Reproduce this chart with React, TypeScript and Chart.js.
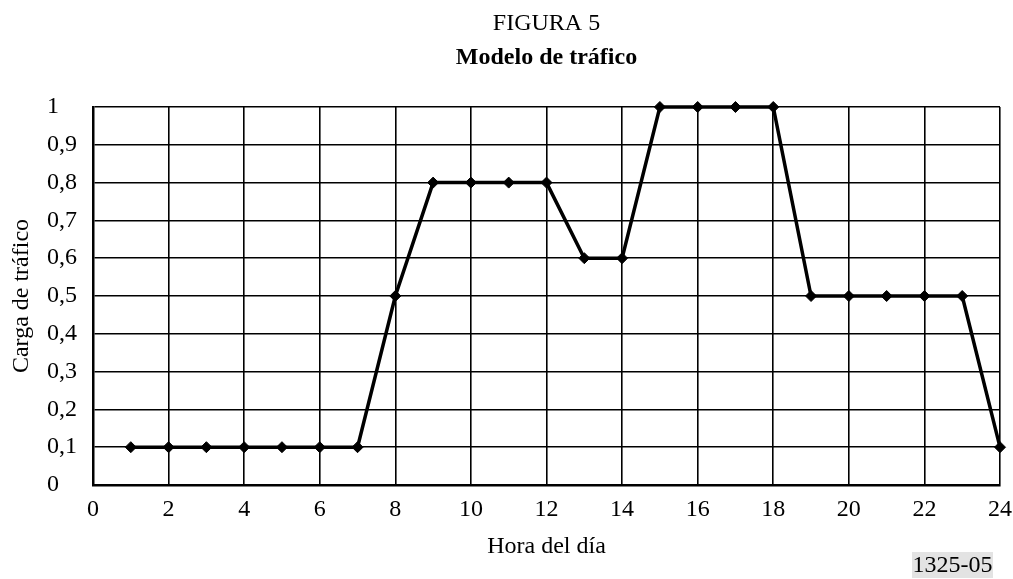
import React, { useEffect, useRef } from "react";
import { Chart, registerables } from "chart.js";

Chart.register(...registerables);

const hours = [1, 2, 3, 4, 5, 6, 7, 8, 9, 10, 11, 12, 13, 14, 15, 16, 17, 18, 19, 20, 21, 22, 23, 24];
const load = [0.1, 0.1, 0.1, 0.1, 0.1, 0.1, 0.1, 0.5, 0.8, 0.8, 0.8, 0.8, 0.6, 0.6, 1, 1, 1, 1, 0.5, 0.5, 0.5, 0.5, 0.5, 0.1];
const figureLabel = "FIGURA 5";
const chartTitle = "Modelo de tráfico";
const xTitle = "Hora del día";
const yTitle = "Carga de tráfico";
const refLabel = "1325-05";

const FONT = "'Liberation Serif', 'Times New Roman', serif";
const FS = 24;

const overlay = {
  id: "overlay",
  afterDraw(chart: any) {
    const ctx = chart.ctx;
    const area = chart.chartArea;
    const cx = (area.left + area.right) / 2;
    const cy = (area.top + area.bottom) / 2;
    ctx.save();
    ctx.fillStyle = "#000";
    ctx.textAlign = "center";
    ctx.textBaseline = "middle";
    ctx.font = `${FS}px ${FONT}`;
    ctx.fillText(figureLabel, cx, 24);
    ctx.font = `bold ${FS}px ${FONT}`;
    ctx.fillText(chartTitle, cx, 58);
    ctx.font = `${FS}px ${FONT}`;
    ctx.fillText(xTitle, cx, 547);
    ctx.save();
    ctx.translate(22, cy);
    ctx.rotate(-Math.PI / 2);
    ctx.fillText(yTitle, 0, 0);
    ctx.restore();
    // reference label
    const bx = 912, by = 552, bw = 81, bh = 26;
    ctx.fillStyle = "#e3e3e3";
    ctx.fillRect(bx, by, bw, bh);
    ctx.fillStyle = "#000";
    ctx.fillText(refLabel, bx + bw / 2, by + bh / 2 + 1);
    ctx.restore();
  },
};

export default function App() {
  const ref = useRef<HTMLCanvasElement>(null);
  useEffect(() => {
    document.body.style.margin = "0";
    const chart = new Chart(ref.current!, {
      type: "line",
      data: {
        datasets: [
          {
            data: hours.map((h, i) => ({ x: h, y: load[i] })),
            borderColor: "#000",
            backgroundColor: "#000",
            borderWidth: 3.5,
            pointStyle: "rectRot",
            pointRadius: 5.5,
            pointBorderWidth: 1,
            tension: 0,
            clip: false,
          } as any,
        ],
      },
      options: {
        animation: false,
        responsive: false,
        maintainAspectRatio: false,
        layout: { padding: { top: 107, right: 13, left: 47, bottom: 0 } },
        plugins: { legend: { display: false }, tooltip: { enabled: false } },
        scales: {
          x: {
            type: "linear",
            min: 0,
            max: 24,
            ticks: { stepSize: 2, color: "#000", font: { family: FONT, size: FS }, padding: 10, maxRotation: 0 },
            grid: { color: "#000", lineWidth: 1.6, drawTicks: false },
            border: { color: "#000", width: 2.5 },
            afterFit(scale: any) {
              scale.height = 94;
              scale.paddingLeft = 0;
              scale.paddingRight = 0;
            },
          },
          y: {
            min: 0,
            max: 1,
            ticks: {
              stepSize: 0.1,
              color: "#000",
              font: { family: FONT, size: FS },
              crossAlign: "far",
              callback: (v: any) => String(Number(Number(v).toFixed(1))).replace(".", ","),
            },
            grid: { color: "#000", lineWidth: 1.6, drawTicks: false },
            border: { color: "#000", width: 2.5 },
            afterFit(scale: any) {
              scale.width = 46;
              scale.paddingTop = 0;
              scale.paddingBottom = 0;
            },
          },
        },
      },
      plugins: [overlay],
    });
    return () => chart.destroy();
  }, []);
  return (
    <div style={{ width: 1013, height: 579 }}>
      <canvas ref={ref} width={1013} height={579} style={{ display: "block" }} />
    </div>
  );
}
